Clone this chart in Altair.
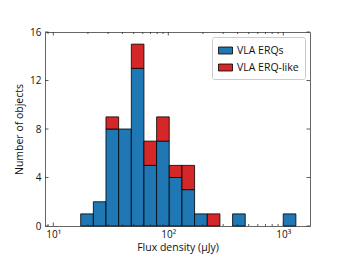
import altair as alt
import pandas as pd

# Histogram bins (log-spaced, flux density in µJy)
bin_lo = [17.3, 22.3, 28.7, 37.0, 47.7, 61.4, 79.1, 101.9, 131.4, 169.3, 218.2, 281.1, 362.2, 466.7, 601.4, 774.9, 998.4]
bin_hi = [22.3, 28.7, 37.0, 47.7, 61.4, 79.1, 101.9, 131.4, 169.3, 218.2, 281.1, 362.2, 466.7, 601.4, 774.9, 998.4, 1286.0]
erq_counts = [1, 2, 8, 8, 13, 5, 7, 4, 3, 1, 0, 0, 1, 0, 0, 0, 1]
erq_like_counts = [0, 0, 1, 0, 2, 2, 2, 1, 2, 0, 1, 0, 0, 0, 0, 0, 0]
series = ["VLA ERQs", "VLA ERQ-like"]
colors = ["#1f77b4", "#d62728"]

x_major = [10, 100, 1000]
x_minor = [9, 20, 30, 40, 50, 60, 70, 80, 90, 200, 300, 400, 500, 600, 700, 800, 900]
y_major = [0, 4, 8, 12, 16]

rows = []
for lo, hi, a, b in zip(bin_lo, bin_hi, erq_counts, erq_like_counts):
    if a > 0:
        rows.append({"lo": lo, "hi": hi, "y0": 0, "y1": a, "series": series[0], "ord": 0})
    if b > 0:
        rows.append({"lo": lo, "hi": hi, "y0": a, "y1": a + b, "series": series[1], "ord": 1})
df = pd.DataFrame(rows)

W, H = 265, 194
xscale = alt.Scale(type="log", domain=[8.47, 1706], nice=False)
yscale = alt.Scale(domain=[0, 16], nice=False)

bars = alt.Chart(df).mark_bar(stroke="black", strokeWidth=0.8, opacity=1).encode(
    x=alt.X("lo:Q", scale=xscale,
            axis=alt.Axis(values=x_major, title="Flux density (\u03bcJy)", tickSize=0,
                          labelExpr="datum.value == 10 ? '10\u00b9' : datum.value == 100 ? '10\u00b2' : '10\u00b3'",
                          labelPadding=3, titlePadding=3, grid=False, domain=False)),
    x2="hi:Q",
    y=alt.Y("y0:Q", scale=yscale,
            axis=alt.Axis(values=y_major, title="Number of objects", tickSize=0,
                          labelPadding=4, titlePadding=5, grid=False, domain=False)),
    y2="y1:Q",
    color=alt.Color("series:N", scale=alt.Scale(domain=series, range=colors),
                    legend=alt.Legend(title=None, orient="none", legendX=167, legendY=5,
                                      symbolType="M-1,-0.5H1V0.5H-1Z", symbolSize=196,
                                      symbolStrokeColor="black", symbolStrokeWidth=0.8,
                                      symbolOpacity=1,
                                      labelFontSize=10.5, labelFont="Open Sans", labelColor="#111",
                                      rowPadding=4, padding=6, strokeColor="#cccccc",
                                      fillColor="white", cornerRadius=2)),
)

xmaj_df = pd.DataFrame({"v": x_major})
xmin_df = pd.DataFrame({"v": x_minor})
ymaj_df = pd.DataFrame({"v": y_major})

tick_color = "#333"
def xticks(d, size):
    top = alt.Chart(d).mark_rule(color=tick_color, strokeWidth=0.8).encode(
        x=alt.X("v:Q", scale=xscale), y=alt.value(0), y2=alt.value(size))
    bot = alt.Chart(d).mark_rule(color=tick_color, strokeWidth=0.8).encode(
        x=alt.X("v:Q", scale=xscale), y=alt.value(H), y2=alt.value(H - size))
    return [top, bot]

def yticks(d, size):
    left = alt.Chart(d).mark_rule(color=tick_color, strokeWidth=0.8).encode(
        y=alt.Y("v:Q", scale=yscale), x=alt.value(0), x2=alt.value(size))
    right = alt.Chart(d).mark_rule(color=tick_color, strokeWidth=0.8).encode(
        y=alt.Y("v:Q", scale=yscale), x=alt.value(W), x2=alt.value(W - size))
    return [left, right]

layers = [bars] + xticks(xmaj_df, 3.5) + xticks(xmin_df, 2) + yticks(ymaj_df, 3.5)

chart = alt.layer(*layers).properties(
    width=W, height=H,
    autosize=alt.AutoSizeParams(type="none"),
    padding={"left": 37, "top": 24, "right": 26, "bottom": 30},
).configure_view(
    stroke="#666", strokeWidth=1
).configure_axis(
    labelFont="Open Sans", titleFont="Open Sans", labelFontSize=10, titleFontSize=10.5,
    labelColor="#111", titleColor="#111", titleFontWeight="normal"
)

chart.save("out.html", embed_options={"renderer": "svg", "actions": False})
